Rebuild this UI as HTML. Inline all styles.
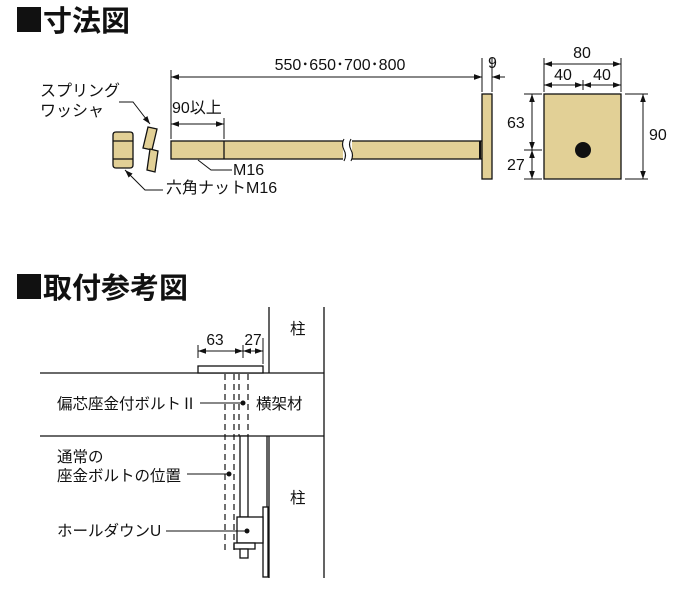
<!DOCTYPE html>
<html><head><meta charset="utf-8"><style>
html,body{margin:0;padding:0;background:#fff}
svg{display:block}
text{font-family:"Liberation Sans","Noto Sans CJK JP",sans-serif;fill:#111}
</style></head><body>
<svg width="700" height="590" viewBox="0 0 700 590" xmlns="http://www.w3.org/2000/svg">
<defs>
<marker id="a" viewBox="0 0 10 10" refX="10" refY="5" markerWidth="8" markerHeight="8" orient="auto-start-reverse" markerUnits="userSpaceOnUse"><path d="M0,1.5 L10,5 L0,8.5 z" fill="#111"/></marker>
</defs>
<g font-weight="bold" font-size="29">
<rect x="17" y="7" width="24" height="25" fill="#111"/>
<text x="43" y="31">寸法図</text>
<rect x="17" y="274" width="24" height="25" fill="#111"/>
<text x="43" y="298">取付参考図</text>
</g>
<!-- top section -->
<g stroke="#111" stroke-width="1.3" fill="#e2d096">
<path d="M116,132 h14 q3,0 3,3 v30 q0,3 -3,3 h-14 q-3,0 -3,-3 v-30 q0,-3 3,-3z"/>
<line x1="113" y1="141" x2="133" y2="141"/><line x1="113" y1="159" x2="133" y2="159"/>
<polygon points="148,127 157,129 152,150 143,148"/>
<polygon points="150,149 158,151 155,172 147,170"/>
<rect x="171" y="141" width="311" height="18"/>
<line x1="224" y1="141" x2="224" y2="159"/>
<rect x="482" y="94" width="10" height="85"/>
<rect x="544" y="94" width="77" height="85"/>
</g>
<rect x="343" y="139" width="9" height="22" fill="#fff"/>
<path d="M344,139 q-3,5 0,11 q3,5 0,11 M351,139 q-3,5 0,11 q3,5 0,11" stroke="#111" stroke-width="1.1" fill="none"/>
<line x1="480" y1="141" x2="480" y2="159" stroke="#111" stroke-width="2"/>
<circle cx="583" cy="150" r="8" fill="#111"/>
<g stroke="#111" stroke-width="1" fill="none">
<line x1="171" y1="70" x2="171" y2="139"/>
<line x1="171" y1="77" x2="482" y2="77" marker-start="url(#a)" marker-end="url(#a)"/>
<line x1="482" y1="58" x2="482" y2="92"/><line x1="492" y1="58" x2="492" y2="92"/>
<line x1="472" y1="77" x2="482" y2="77" marker-end="url(#a)"/>
<line x1="505" y1="77" x2="492" y2="77" marker-end="url(#a)"/>
<line x1="224" y1="118" x2="224" y2="139"/>
<line x1="171" y1="124" x2="224" y2="124" marker-start="url(#a)" marker-end="url(#a)"/>
<line x1="544" y1="58" x2="544" y2="92"/><line x1="621" y1="58" x2="621" y2="92"/><line x1="583" y1="80" x2="583" y2="90"/>
<line x1="544" y1="64" x2="621" y2="64" marker-start="url(#a)" marker-end="url(#a)"/>
<line x1="544" y1="85" x2="583" y2="85" marker-start="url(#a)" marker-end="url(#a)"/>
<line x1="583" y1="85" x2="621" y2="85" marker-start="url(#a)" marker-end="url(#a)"/>
<line x1="524" y1="94" x2="542" y2="94"/><line x1="524" y1="150" x2="542" y2="150"/><line x1="524" y1="179" x2="542" y2="179"/>
<line x1="532" y1="94" x2="532" y2="150" marker-start="url(#a)" marker-end="url(#a)"/>
<line x1="532" y1="150" x2="532" y2="179" marker-start="url(#a)" marker-end="url(#a)"/>
<line x1="625" y1="94" x2="648" y2="94"/><line x1="625" y1="179" x2="648" y2="179"/>
<line x1="643" y1="94" x2="643" y2="179" marker-start="url(#a)" marker-end="url(#a)"/>
<polyline points="119,102 133,102 150,124" marker-end="url(#a)"/>
<polyline points="232,170 211,170 198,160"/>
<polyline points="163,190 145,190 125,170" marker-end="url(#a)"/>
</g>
<g font-size="16">
<text x="340" y="70" text-anchor="middle">550･650･700･800</text>
<text x="488" y="68">9</text>
<text x="172" y="113">90以上</text>
<text x="582" y="58" text-anchor="middle">80</text>
<text x="563" y="80" text-anchor="middle">40</text>
<text x="602" y="80" text-anchor="middle">40</text>
<text x="507" y="128">63</text>
<text x="507" y="170">27</text>
<text x="649" y="140">90</text>
<text x="233" y="175">M16</text>
<text x="166" y="193">六角ナットM16</text>
<text x="40" y="96">スプリング</text>
<text x="40" y="116">ワッシャ</text>
</g>
<!-- bottom section -->
<g stroke="#111" stroke-width="1.3" fill="none">
<line x1="40" y1="373" x2="324" y2="373"/>
<line x1="40" y1="436" x2="324" y2="436"/>
<line x1="324" y1="307" x2="324" y2="578"/>
<line x1="269" y1="307" x2="269" y2="373"/>
<line x1="269" y1="436" x2="269" y2="578"/>
<line x1="267" y1="436" x2="267" y2="507"/>
<rect x="198" y="366" width="65" height="7" fill="#fff"/>
<rect x="263" y="507" width="5" height="70" fill="#fff"/>
<rect x="240" y="436" width="8" height="81" fill="#fff"/>
<rect x="237" y="517" width="26" height="26" fill="#fff"/>
<rect x="234" y="543" width="21" height="6" fill="#fff"/>
<rect x="240" y="549" width="8" height="9" fill="#fff"/>
</g>
<g stroke="#111" stroke-width="1.2" stroke-dasharray="6,4">
<line x1="225" y1="374" x2="225" y2="553"/>
<line x1="234" y1="374" x2="234" y2="553"/>
<line x1="239" y1="374" x2="239" y2="436"/>
<line x1="248" y1="374" x2="248" y2="436"/>
</g>
<g stroke="#111" stroke-width="1" fill="none">
<line x1="198" y1="345" x2="198" y2="358"/><line x1="263" y1="338" x2="263" y2="364"/><line x1="243" y1="345" x2="243" y2="358"/>
<line x1="198" y1="351" x2="243" y2="351" marker-start="url(#a)" marker-end="url(#a)"/>
<line x1="243" y1="351" x2="263" y2="351" marker-start="url(#a)" marker-end="url(#a)"/>
<line x1="200" y1="403" x2="243" y2="403"/>
<line x1="187" y1="474" x2="229" y2="474"/>
<line x1="166" y1="531" x2="247" y2="531"/>
</g>
<circle cx="243" cy="403" r="2.5" fill="#111"/>
<circle cx="229" cy="474" r="2.5" fill="#111"/>
<circle cx="247" cy="531" r="2.5" fill="#111"/>
<g font-size="15.5">
<text x="215" y="345" text-anchor="middle">63</text>
<text x="253" y="345" text-anchor="middle">27</text>
<text x="290" y="334">柱</text>
<text x="290" y="503">柱</text>
<text x="57" y="409">偏芯座金付ボルトⅡ</text>
<text x="256" y="409">横架材</text>
<text x="57" y="462">通常の</text>
<text x="57" y="481">座金ボルトの位置</text>
<text x="57" y="536">ホールダウンU</text>
</g>
</svg>
</body></html>
